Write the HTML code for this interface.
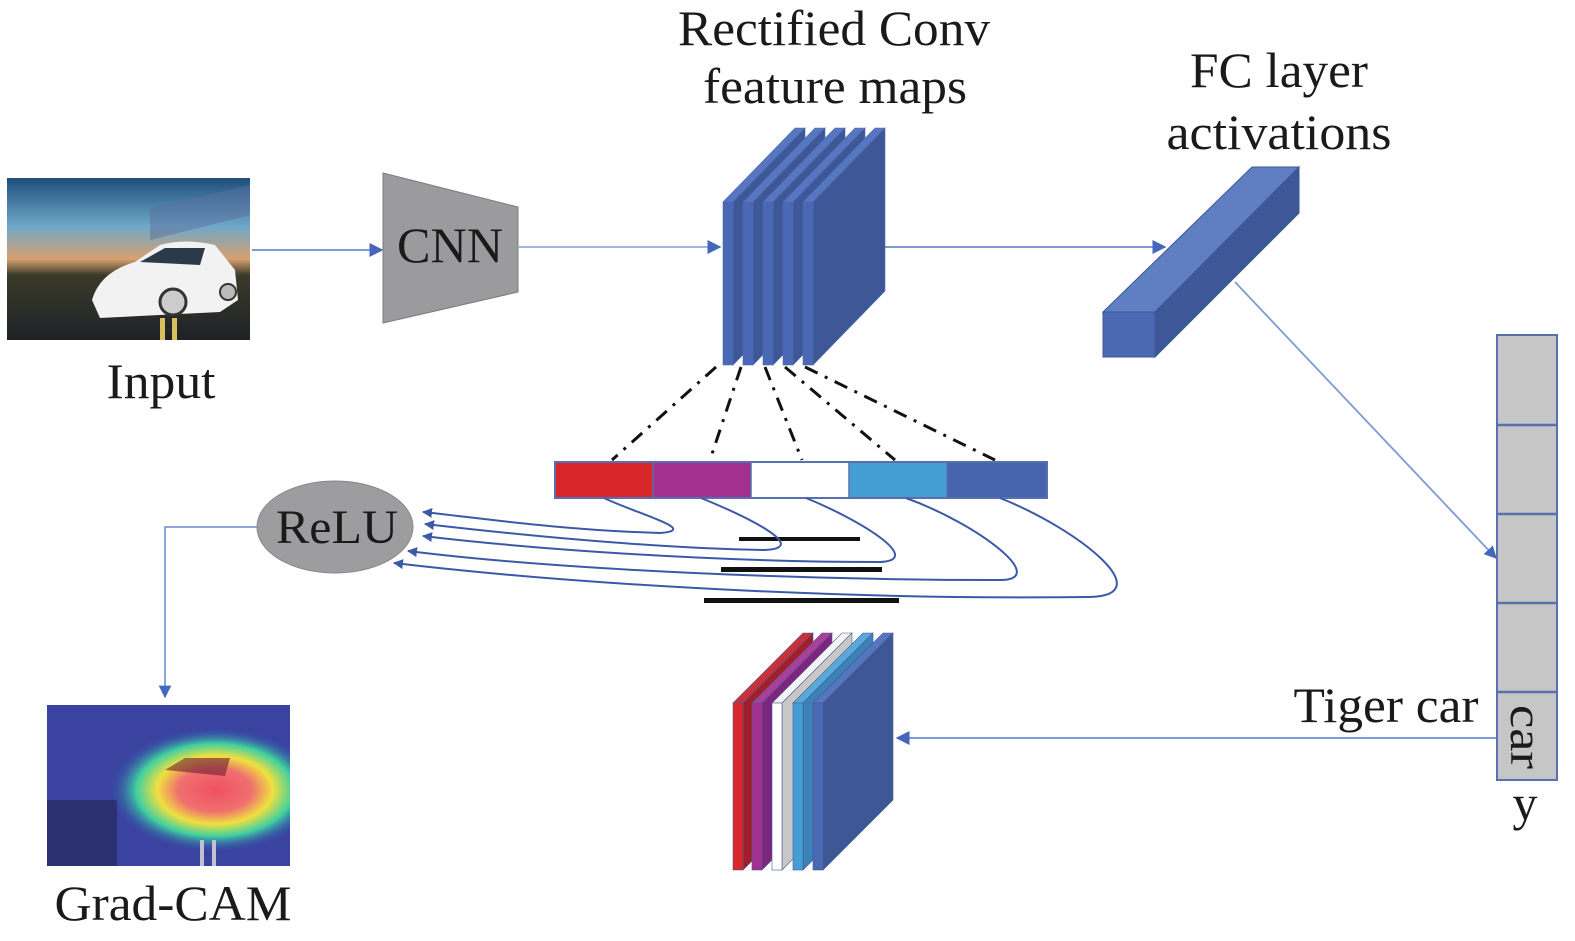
<!DOCTYPE html>
<html><head><meta charset="utf-8"><style>
html,body{margin:0;padding:0;background:#fff;width:1575px;height:941px;overflow:hidden}
svg{display:block}
text{font-family:"Liberation Serif",serif;fill:#1a1a1a}
</style></head><body>
<svg width="1575" height="941" viewBox="0 0 1575 941" xmlns="http://www.w3.org/2000/svg">
<defs>
<marker id="ar" viewBox="0 0 10 10" refX="9" refY="5" markerWidth="7" markerHeight="7" orient="auto"><path d="M0,0 L10,5 L0,10 z" fill="#4466bb"/></marker>
<marker id="ar2" viewBox="0 0 10 10" refX="9" refY="5" markerWidth="5" markerHeight="5" orient="auto"><path d="M0,0 L10,5 L0,10 z" fill="#3a5aa8"/></marker>
<linearGradient id="sky" x1="0" y1="0" x2="0" y2="1">
<stop offset="0" stop-color="#1d4f7a"/><stop offset="0.3" stop-color="#6fa8c8"/><stop offset="0.5" stop-color="#d8a070"/><stop offset="0.6" stop-color="#3a3a2a"/><stop offset="1" stop-color="#1e2226"/></linearGradient>
<radialGradient id="heat" cx="0.5" cy="0.5" r="0.5">
<stop offset="0" stop-color="#f05060"/><stop offset="0.35" stop-color="#f07070"/><stop offset="0.55" stop-color="#f0e040"/><stop offset="0.75" stop-color="#40d0a0"/><stop offset="1" stop-color="#3050b0" stop-opacity="0"/></radialGradient>
<clipPath id="gc"><rect x="47" y="705" width="243" height="161"/></clipPath>
</defs>

<!-- Input image -->
<rect x="7" y="178" width="243" height="162" fill="url(#sky)"/>
<path d="M150,208 L250,185 L250,215 L150,240 Z" fill="#5a6fa0" opacity="0.5"/>
<path d="M92,300 Q100,272 135,262 L160,245 Q185,238 215,245 L235,270 L238,300 L220,312 L100,318 Z" fill="#f2f2f2"/>
<path d="M140,262 L165,248 L205,248 L200,265 Z" fill="#2a3a4a"/>
<circle cx="173" cy="302" r="13" fill="#ccc" stroke="#333" stroke-width="3"/>
<circle cx="228" cy="292" r="8" fill="#bbb" stroke="#333" stroke-width="2"/>
<rect x="160" y="318" width="5" height="22" fill="#d8c060"/><rect x="172" y="318" width="5" height="22" fill="#d8c060"/>

<!-- Grad-CAM image -->
<g clip-path="url(#gc)">
<rect x="47" y="705" width="243" height="161" fill="#3a44a0"/>
<rect x="47" y="800" width="70" height="66" fill="#2a3070"/>
<ellipse cx="215" cy="790" rx="105" ry="62" fill="url(#heat)"/>
<path d="M165,770 L185,758 L230,758 L225,776 Z" fill="#6a2030" opacity="0.6"/>
<rect x="200" y="840" width="4" height="26" fill="#c0c0d0"/><rect x="212" y="840" width="4" height="26" fill="#c0c0d0"/>
</g>

<!-- CNN -->
<polygon points="383,173 518,207 518,292 383,323" fill="#9b9b9d" stroke="#7b7b7d" stroke-width="1"/>
<text x="450" y="262" font-size="50" text-anchor="middle" textLength="106" lengthAdjust="spacingAndGlyphs">CNN</text>

<!-- arrows -->
<line x1="252" y1="250" x2="382" y2="250" stroke="#7e9bd6" stroke-width="2" marker-end="url(#ar)"/>
<line x1="519" y1="247" x2="720" y2="247" stroke="#9db3e0" stroke-width="2" marker-end="url(#ar)"/>
<line x1="860" y1="247" x2="1165" y2="247" stroke="#7e9bd6" stroke-width="2" marker-end="url(#ar)"/>
<line x1="1235" y1="282" x2="1496" y2="558" stroke="#7e9bd6" stroke-width="1.8" marker-end="url(#ar)"/>
<line x1="1497" y1="738" x2="897" y2="738" stroke="#7e9bd6" stroke-width="2" marker-end="url(#ar)"/>
<polyline points="258,527 165,527 165,697" fill="none" stroke="#7e9bd6" stroke-width="1.8" marker-end="url(#ar)"/>

<!-- top stack -->
<g stroke="#4a68b4" stroke-width="0.6">
<polygon points="723,202 795,128 805,128 733,202" fill="#5677c0"/><polygon points="733,202 805,128 805,291 733,365" fill="#3e5797"/><rect x="723" y="202" width="10" height="163" fill="#4a68b4"/>
<polygon points="743,202 815,128 825,128 753,202" fill="#5677c0"/><polygon points="753,202 825,128 825,291 753,365" fill="#3e5797"/><rect x="743" y="202" width="10" height="163" fill="#4a68b4"/>
<polygon points="763,202 835,128 845,128 773,202" fill="#5677c0"/><polygon points="773,202 845,128 845,291 773,365" fill="#3e5797"/><rect x="763" y="202" width="10" height="163" fill="#4a68b4"/>
<polygon points="783,202 855,128 865,128 793,202" fill="#5677c0"/><polygon points="793,202 865,128 865,291 793,365" fill="#3e5797"/><rect x="783" y="202" width="10" height="163" fill="#4a68b4"/>
<polygon points="803,202 875,128 885,128 813,202" fill="#5677c0"/><polygon points="813,202 885,128 885,291 813,365" fill="#3e5797"/><rect x="803" y="202" width="10" height="163" fill="#4a68b4"/>
</g>

<!-- dash-dot lines -->
<g stroke="#111" stroke-width="3" stroke-dasharray="14,8,3,8" fill="none">
<line x1="716" y1="367" x2="612" y2="460"/>
<line x1="741" y1="367" x2="710" y2="460"/>
<line x1="765" y1="367" x2="802" y2="460"/>
<line x1="785" y1="367" x2="895" y2="460"/>
<line x1="805" y1="367" x2="995" y2="460"/>
</g>

<!-- bar -->
<rect x="555" y="462" width="98" height="36" fill="#d9262b"/>
<rect x="653" y="462" width="98" height="36" fill="#a3308f"/>
<rect x="751" y="462" width="98" height="36" fill="#ffffff"/>
<rect x="849" y="462" width="98" height="36" fill="#449ed4"/>
<rect x="947" y="462" width="100" height="36" fill="#4663ae"/>
<rect x="555" y="462" width="492" height="36" fill="none" stroke="#5870b0" stroke-width="2"/>
<g stroke="#5870b0" stroke-width="1.5"><line x1="653" y1="462" x2="653" y2="498"/><line x1="751" y1="462" x2="751" y2="498"/><line x1="849" y1="462" x2="849" y2="498"/><line x1="947" y1="462" x2="947" y2="498"/></g>

<!-- black lines -->
<rect x="739" y="537" width="121" height="4" fill="#111"/>
<rect x="721" y="567" width="161" height="5" fill="#111"/>
<rect x="704" y="598" width="195" height="5" fill="#111"/>

<!-- curves -->
<g fill="none" stroke="#3a5aa8" stroke-width="2">
<path d="M604,498 C640,515 700,530 660,533 C560,530 480,518 423,512" marker-end="url(#ar2)"/>
<path d="M701,498 C750,518 810,548 765,550 C650,548 520,535 425,524" marker-end="url(#ar2)"/>
<path d="M806,498 C860,520 925,560 880,562 C720,562 540,550 423,536" marker-end="url(#ar2)"/>
<path d="M906,498 C980,525 1050,580 1000,580 C800,580 560,570 408,551" marker-end="url(#ar2)"/>
<path d="M1000,498 C1080,530 1160,595 1090,597 C850,600 580,585 394,563" marker-end="url(#ar2)"/>
</g>

<!-- ReLU -->
<ellipse cx="335" cy="527" rx="78" ry="46" fill="#9d9d9f" stroke="#888" stroke-width="1"/>
<text x="337" y="543" font-size="48" text-anchor="middle" textLength="122" lengthAdjust="spacingAndGlyphs">ReLU</text>

<!-- bottom stack -->
<g stroke="#4a5a90" stroke-width="0.6">
<polygon points="733,703 803,633 813,633 743,703" fill="#c8303a"/><polygon points="743,703 813,633 813,800 743,870" fill="#a01e2a"/><rect x="733" y="703" width="10" height="167" fill="#d9262b"/>
<polygon points="752,703 822,633 832,633 762,703" fill="#a84098"/><polygon points="762,703 832,633 832,800 762,870" fill="#7d2680"/><rect x="752" y="703" width="10" height="167" fill="#a3308f"/>
<polygon points="772,703 842,633 852,633 782,703" fill="#f4f4f4"/><polygon points="782,703 852,633 852,800 782,870" fill="#c8c8c8"/><rect x="772" y="703" width="10" height="167" fill="#ffffff"/>
<polygon points="793,703 863,633 873,633 803,703" fill="#58a8dc"/><polygon points="803,703 873,633 873,800 803,870" fill="#3a82b8"/><rect x="793" y="703" width="10" height="167" fill="#449ed4"/>
<polygon points="813,703 883,633 893,633 823,703" fill="#5677c0"/><polygon points="823,703 893,633 893,800 823,870" fill="#3e5797"/><rect x="813" y="703" width="10" height="167" fill="#4a68b4"/>
</g>

<!-- FC -->
<g stroke="#3e5797" stroke-width="1">
<polygon points="1103,312 1252,167 1299,167 1155,312" fill="#5f7fc2"/>
<polygon points="1155,312 1299,167 1299,213 1155,357" fill="#3e5797"/>
<rect x="1103" y="312" width="52" height="45" fill="#4a68b4"/>
</g>

<!-- vector -->
<rect x="1497" y="335" width="60" height="445" fill="#c6c6c6" stroke="#5870b0" stroke-width="2"/>
<g stroke="#5870b0" stroke-width="2.5"><line x1="1497" y1="425" x2="1557" y2="425"/><line x1="1497" y1="514" x2="1557" y2="514"/><line x1="1497" y1="603" x2="1557" y2="603"/><line x1="1497" y1="692" x2="1557" y2="692"/></g>
<text transform="translate(1511,737) rotate(90)" font-size="46" text-anchor="middle" textLength="64" lengthAdjust="spacingAndGlyphs">car</text>
<text x="1525" y="820" font-size="50" text-anchor="middle">y</text>

<!-- labels -->
<text x="834" y="45" font-size="50" text-anchor="middle" textLength="312" lengthAdjust="spacingAndGlyphs">Rectified Conv</text>
<text x="835" y="103" font-size="50" text-anchor="middle" textLength="264" lengthAdjust="spacingAndGlyphs">feature maps</text>
<text x="1279" y="87" font-size="50" text-anchor="middle" textLength="178" lengthAdjust="spacingAndGlyphs">FC layer</text>
<text x="1279" y="149" font-size="50" text-anchor="middle" textLength="225" lengthAdjust="spacingAndGlyphs">activations</text>
<text x="161" y="398" font-size="50" text-anchor="middle" textLength="109" lengthAdjust="spacingAndGlyphs">Input</text>
<text x="173" y="920" font-size="50" text-anchor="middle" textLength="237" lengthAdjust="spacingAndGlyphs">Grad-CAM</text>
<text x="1386" y="722" font-size="50" text-anchor="middle" textLength="185" lengthAdjust="spacingAndGlyphs">Tiger car</text>
</svg>
</body></html>
